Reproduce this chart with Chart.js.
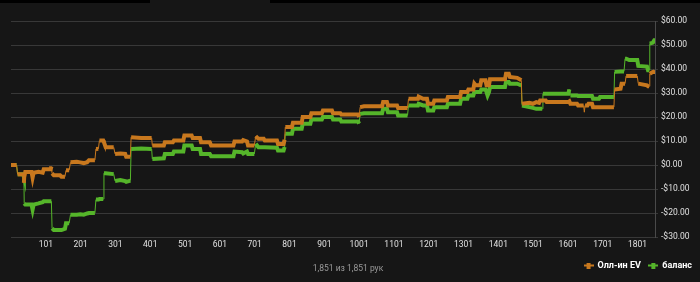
<!DOCTYPE html>
<html>
<head>
<meta charset="utf-8">
<script src="https://cdn.jsdelivr.net/npm/chart.js@4.4.1/dist/chart.umd.min.js"></script>
<style>
  html, body { margin: 0; padding: 0; background: #161616; }
  #wrap { position: relative; width: 700px; height: 282px; }
</style>
</head>
<body>
<div id="wrap"><canvas id="c" width="700" height="282"></canvas></div>
<script>
// ---- DATA ----
const seriesNames = ['Олл-ин EV', 'баланс'];
const hands = [1,17,20,36,38,39,42,60,63,66,80,92,95,115,117,119,124,142,146,156,159,168,172,190,200,210,220,225,242,245,252,255,266,268,273,296,300,315,329,332,344,346,375,405,407,440,443,466,469,496,499,520,523,544,547,572,576,640,643,665,668,679,682,700,704,712,727,730,765,768,784,787,789,808,811,836,839,861,864,894,897,923,926,947,950,998,1001,1004,1015,1067,1070,1081,1084,1110,1113,1140,1143,1170,1172,1185,1196,1199,1214,1217,1253,1256,1291,1294,1312,1315,1329,1332,1336,1349,1352,1364,1367,1370,1374,1377,1420,1423,1431,1434,1455,1467,1469,1490,1500,1510,1518,1521,1527,1529,1537,1540,1602,1605,1608,1627,1630,1646,1648,1650,1657,1660,1670,1673,1690,1693,1733,1735,1752,1755,1762,1765,1768,1777,1800,1803,1828,1831,1834,1836,1845,1849,1851];
const allinEV = [0,0,-3.9,-3.9,-7.4,-5,-2.9,-2.9,-5.3,-3.2,-2.8,-3.2,-1.8,-1.8,-0.6,-3.5,-4.3,-4.3,-4.9,-4.9,-2.2,-2.2,1.1,1.3,1.1,0.8,1.2,2,2,6.7,6.7,10.2,10.2,9.5,7.4,7.4,4.6,4.8,4.6,3.4,3.4,11.6,11.3,11.3,8.1,8.1,9.5,9.5,10.2,10.2,12.3,12.3,11.2,11.2,9.5,9.5,8.1,8.1,9.8,9.8,10.4,9.8,8.1,8.1,12,10.9,10.9,10.2,10.2,8.8,8.8,10.5,15.8,15.8,17.6,17.6,20,20,21.6,21.6,22.7,22.7,21.6,21.6,21,21,20,24.1,24.5,24.5,26.2,26.2,24.8,24.8,23.7,23.7,27.6,27.6,28.5,27.6,27.6,25.5,25.5,26.9,26.9,28.3,28.3,30.4,30.4,31.5,31.5,33.9,33.2,33.2,35.3,35.3,33.2,33.2,33.2,35.7,35.7,38,38,36.7,36.3,35.3,25.5,25.9,25.5,26.2,25.9,26.9,26.9,26.9,26.9,26.2,26.2,26.5,25.5,25.5,24.8,24.8,22,24.8,24.8,25.5,25.5,24.1,24.1,24.1,24.1,31.5,31.8,33.9,33.9,33.9,37.1,37.1,37.1,33.9,33.2,32.8,32.8,38,38.8,38.8,39.5];
const balance = [0,0,-3.9,-3.9,-5,-16,-16.5,-16.5,-18.6,-16.5,-16,-15.5,-15.1,-15.1,-15.1,-26.4,-27.1,-27.1,-27.1,-26.6,-24.3,-24.3,-20.7,-20.7,-20.5,-20.7,-20.2,-20,-20,-14.4,-14.4,-14.2,-14.2,-3.4,-3.4,-3.8,-6.7,-6.3,-6.7,-7,-6.5,6.7,6.9,6.7,2.5,2.8,4.6,4.6,5.6,5.6,8.1,8.1,6.7,6.7,4.6,4.6,3.6,3.6,5.6,5.3,4.8,5.6,4.6,4.6,8.8,7.4,7.4,7.4,7.2,6,6,7.5,13,13,15.1,15.1,17.2,17.2,19,19,20,20,19,19,18.1,18.1,17.2,21.3,21.6,21.6,23.4,23.4,22,22,20.6,20.6,24.8,24.8,25.5,24.8,24.8,22.7,22.7,24.1,24.1,25.5,25.5,27.6,27.6,29,29,30.4,30.4,30.4,31.5,31.5,30.4,29,30.4,32.5,32.5,34.6,34.6,33.9,33.9,33.2,24.8,24.1,23.8,23.4,23.4,23.4,23.4,29.7,29.7,29.7,29.7,31.5,29,29,28.7,28.7,28.7,28.7,28.7,28.7,28.7,27.6,27.6,28.3,28.3,38.8,39,39,39,44.3,44.3,43.7,43.7,41.3,41,39.5,39.5,50.6,51,52,52];
const xTickLabels = [101,201,301,401,501,601,701,801,901,1001,1101,1201,1301,1401,1501,1601,1701,1801];
const yTickValues = [-30,-20,-10,0,10,20,30,40,50,60];
const totalHands = 1851;
const footerText = '1,851 из 1,851 рук';

// ---- STYLE ----
const orange = '#c8781e';
const green = '#55b52a';
const FONT = 'Roboto, "Open Sans", sans-serif';

function legendIcon(color) {
  const cv = document.createElement('canvas');
  cv.width = 10; cv.height = 6;
  const g = cv.getContext('2d');
  g.fillStyle = color;
  g.fillRect(0, 2, 10, 2);
  g.fillRect(3, 0, 4, 6);
  return cv;
}

function toPoints(vals) { return hands.map((h, i) => ({ x: h, y: vals[i] })); }

const segWidth = ctx => {
  const dx = Math.abs(ctx.p1.x - ctx.p0.x), dy = Math.abs(ctx.p1.y - ctx.p0.y);
  return (dy > 6 && dx < dy / 4) ? 1 : 4;
};

const bgPlugin = {
  id: 'bg',
  beforeDraw(chart) {
    const c = chart.ctx;
    c.save();
    c.fillStyle = '#161616';
    c.fillRect(0, 0, chart.width, chart.height);
    c.fillStyle = '#000000';
    c.fillRect(0, 0, 150, 3);
    c.fillRect(270, 0, 430, 3);
    c.restore();
  }
};

const footerPlugin = {
  id: 'footer',
  afterDraw(chart) {
    const c = chart.ctx;
    c.save();
    c.font = '8.5px ' + FONT;
    c.fillStyle = '#9a9a9a';
    c.textAlign = 'center';
    c.textBaseline = 'middle';
    c.fillText(footerText, 348, 269);
    c.restore();
  }
};

new Chart(document.getElementById('c'), {
  type: 'line',
  data: {
    datasets: [
      { label: seriesNames[0], data: toPoints(allinEV), borderColor: orange, backgroundColor: orange,
        pointRadius: 0, pointStyle: legendIcon(orange), borderWidth: 4, tension: 0,
        segment: { borderWidth: segWidth } },
      { label: seriesNames[1], data: toPoints(balance), borderColor: green, backgroundColor: green,
        pointRadius: 0, pointStyle: legendIcon(green), borderWidth: 4, tension: 0,
        segment: { borderWidth: segWidth } }
    ]
  },
  options: {
    responsive: false,
    animation: false,
    devicePixelRatio: 1,
    layout: { padding: { left: 11, top: 21, right: 0, bottom: 2 } },
    plugins: {
      legend: {
        position: 'bottom', align: 'end',
        labels: { usePointStyle: true, color: '#ffffff', font: { family: FONT, size: 9, weight: 'bold' }, padding: 8, boxWidth: 10, boxHeight: 6 }
      },
      tooltip: { enabled: false },
      title: { display: false }
    },
    scales: {
      x: {
        type: 'linear', min: 1, max: totalHands,
        grid: { display: false, drawTicks: false },
        border: { display: false },
        afterBuildTicks: s => { s.ticks = xTickLabels.map(v => ({ value: v })); },
        afterFit: s => { s.height = 16; },
        ticks: { color: '#e0e0e0', font: { family: FONT, size: 8.5 }, padding: 3, maxRotation: 0, autoSkip: false,
          callback: v => String(v) }
      },
      y: {
        position: 'right', min: -30, max: 60,
        afterBuildTicks: s => { s.ticks = yTickValues.map(v => ({ value: v })); },
        afterFit: s => { s.width = 45; },
        grid: { color: '#383838', lineWidth: 1, drawTicks: true, tickLength: 3 },
        border: { display: true, color: '#4a4a4a' },
        ticks: { color: '#e0e0e0', font: { family: FONT, size: 8.5 }, padding: 3,
          callback: v => (v < 0 ? '-$' : '$') + Math.abs(v).toFixed(2) }
      }
    }
  },
  plugins: [bgPlugin, footerPlugin]
});
</script>
</body>
</html>
